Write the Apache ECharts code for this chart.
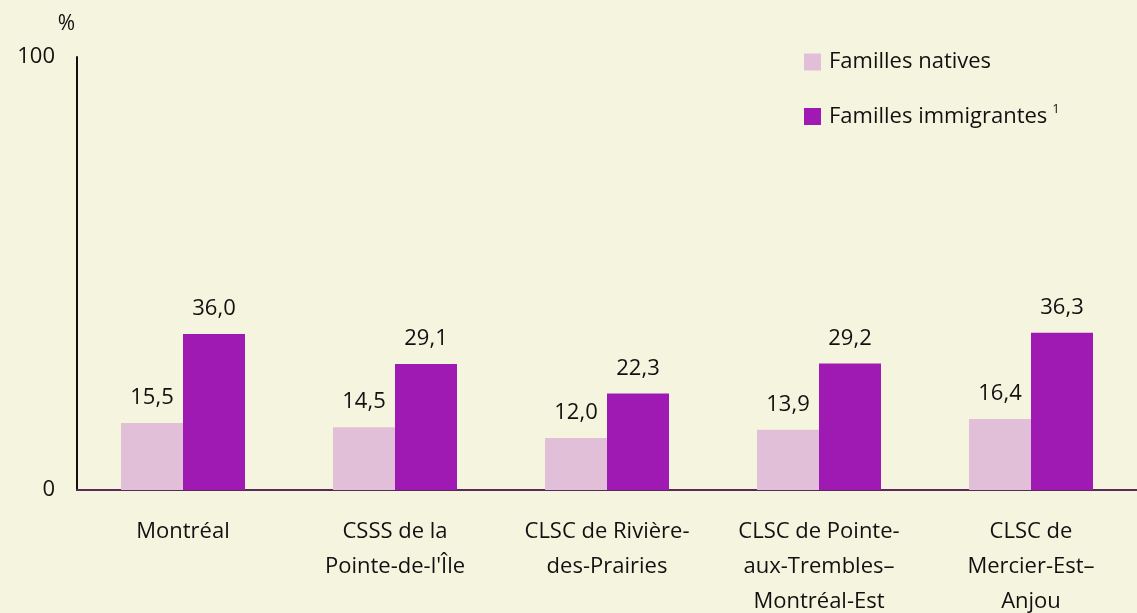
<!DOCTYPE html>
<html><head><meta charset="utf-8">
<script src="https://cdn.jsdelivr.net/npm/echarts@6/dist/echarts.min.js"></script>
<style>html,body{margin:0;padding:0;background:#F5F5DF;overflow:hidden;}#c{width:100vw;height:100vh;}</style>
</head><body><div id="c"></div>
<script>
const categories = ["Montréal", "CSSS de la\nPointe-de-l'Île", "CLSC de Rivière-\ndes-Prairies", "CLSC de Pointe-\naux-Trembles–\nMontréal-Est", "CLSC de\nMercier-Est–\nAnjou"];
const natives = [15.5, 14.5, 12.0, 13.9, 16.4];
const immigrants = [36.0, 29.1, 22.3, 29.2, 36.3];
const yTicks = [0, 100];
const seriesNames = ["Familles natives", "Familles immigrantes"];

const font = "Open Sans";
const fs = 22;
const fmt = p => p.value.toFixed(1).replace('.', ',');
const chart = echarts.init(document.getElementById('c'));
chart.setOption({
  backgroundColor: '#F5F5DF',
  animation: false,
  textStyle: {fontFamily: font},
  grid: {left: 77, top: 57, right: 0, bottom: 123, containLabel: false, outerBoundsMode: 'none'},
  legend: {
    orient: 'vertical', left: 799, top: 46, itemWidth: 17, itemHeight: 17, itemGap: 30,
    icon: 'rect',
    data: seriesNames,
    formatter: n => n === seriesNames[1] ? '{a|' + n + '}{s|1}' : '{a|' + n + '}',
    textStyle: {rich: {a: {fontSize: fs, color: '#111', fontFamily: font, padding: [0,0,0,3]}, s: {fontSize: 13, color: '#111', fontFamily: font, verticalAlign: 'top', padding: [0,0,14,5]}}}
  },
  xAxis: {
    type: 'category', data: categories,
    axisLine: {lineStyle: {color: '#5A2A5A', width: 2}},
    axisTick: {show: false},
    axisLabel: {fontSize: fs, color: '#111', lineHeight: 35, margin: 24, interval: 0, fontFamily: font}
  },
  yAxis: {
    type: 'value', min: 0, max: 100, interval: 100,
    name: '%', nameLocation: 'end', nameGap: 22,
    nameTextStyle: {fontSize: fs - 1, color: '#111', align: 'right', padding: [0, 2, 0, 0], fontFamily: font},
    axisLine: {show: true, lineStyle: {color: '#111', width: 2}},
    axisTick: {show: false},
    splitLine: {show: false},
    axisLabel: {fontSize: fs, color: '#111', margin: 22, fontFamily: font, customValues: yTicks}
  },
  series: [
    {name: seriesNames[0], type: 'bar', data: natives, barWidth: 62, barGap: '0%',
     itemStyle: {color: '#E1BFD9'},
     label: {show: true, position: 'top', distance: 14, fontSize: fs, color: '#111', formatter: fmt, fontFamily: font}},
    {name: seriesNames[1], type: 'bar', data: immigrants, barWidth: 62, barGap: '0%',
     itemStyle: {color: '#9E1AB2'},
     label: {show: true, position: 'top', distance: 14, fontSize: fs, color: '#111', formatter: fmt, fontFamily: font}}
  ]
});
</script></body></html>
